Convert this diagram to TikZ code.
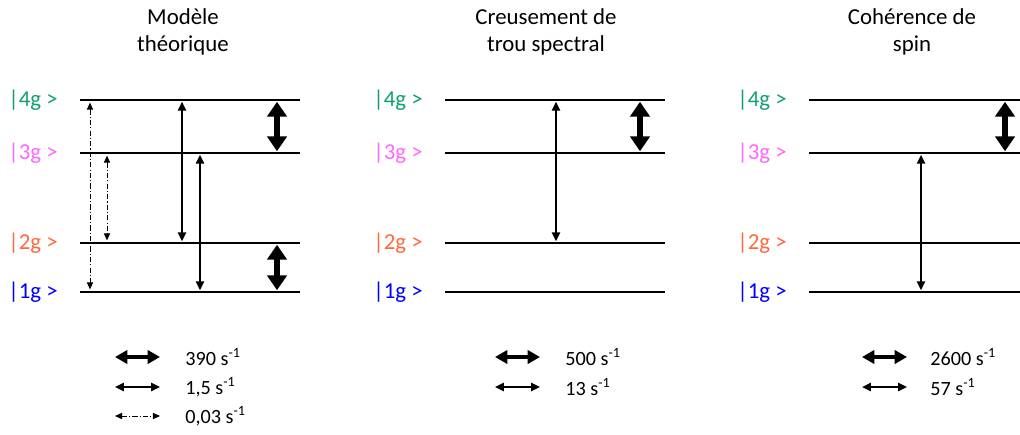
\documentclass[tikz,border=0pt]{standalone}
\usepackage{fontspec}
\setmainfont{Carlito}
\usetikzlibrary{arrows.meta,positioning}

\definecolor{ketfour}{RGB}{16,160,112}
\definecolor{ketthree}{RGB}{255,102,255}
\definecolor{kettwo}{RGB}{255,105,60}
\definecolor{ketone}{RGB}{0,0,255}

\begin{document}
\begin{tikzpicture}[x=0.02cm,y=-0.02cm,
    level/.style={line width=1.1pt},
    ket/.style={anchor=west,inner sep=0pt,font=\fontsize{13}{15}\selectfont},
    title/.style={align=center,font=\fontsize{13}{15.5}\selectfont},
    rate/.style={anchor=west,inner sep=0pt,font=\fontsize{11.5}{13}\selectfont},
    fast/.style={line width=3.4pt,{Triangle[width=11pt,length=8.5pt]}-{Triangle[width=11pt,length=8.5pt]}},
    fastkey/.style={line width=2.8pt,{Triangle[width=7.5pt,length=7pt]}-{Triangle[width=7.5pt,length=7pt]}},
    medium/.style={line width=1.2pt,{Triangle[width=4.5pt,length=5pt]}-{Triangle[width=4.5pt,length=5pt]}},
    slow/.style={line width=0.5pt,dash pattern=on 3pt off 1.2pt on 0.6pt off 1.2pt,
      {Triangle[width=3.5pt,length=4pt]}-{Triangle[width=3.5pt,length=4pt]}}]
  \useasboundingbox (0,0) rectangle (1020,434);

  % titres
  \node[title] (t_1) at (183,32) {Modèle\\théorique};
  \node[title] (t_2) at (546,32) {Creusement de\\trou spectral};
  \node[title] (t_3) at (912,32) {Cohérence de\\spin};

  % niveaux
  \foreach \p/\x/\e in {1/0/300,2/365/665,3/729/1020} {
    \node[ket,text=ketfour]  (k\p_4) at (8+\x,100) {|4g >};
    \node[ket,text=ketthree] (k\p_3) at (8+\x,153) {|3g >};
    \node[ket,text=kettwo]   (k\p_2) at (8+\x,243) {|2g >};
    \node[ket,text=ketone]   (k\p_1) at (8+\x,292) {|1g >};
    \foreach \n/\y in {4/100,3/153,2/243,1/292} {
      \coordinate (s\p_\n) at (80+\x,\y);
      \coordinate (e\p_\n) at (\e,\y);
      \draw[level] (s\p_\n) -- (e\p_\n);
    }
  }

  % transitions
  \coordinate (a_1) at (90,0);
  \coordinate (a_2) at (107,0);
  \coordinate (a_3) at (182,0);
  \coordinate (a_4) at (200,0);
  \coordinate (a_5) at (277,0);
  \coordinate (b_1) at (556,0);
  \coordinate (b_2) at (640,0);
  \coordinate (c_1) at (921,0);
  \coordinate (c_2) at (1005,0);
  \draw[slow,shorten <=1.5pt,shorten >=1.5pt] (a_1 |- s1_4) -- (a_1 |- s1_1);
  \draw[slow,shorten <=1.5pt,shorten >=1.5pt] (a_2 |- s1_3) -- (a_2 |- s1_2);
  \draw[medium,shorten <=1pt,shorten >=1pt] (a_3 |- s1_4) -- (a_3 |- s1_2);
  \draw[medium,shorten <=1pt,shorten >=1pt] (a_4 |- s1_3) -- (a_4 |- s1_1);
  \draw[fast,shorten <=1pt,shorten >=1pt] (a_5 |- s1_4) -- (a_5 |- s1_3);
  \draw[fast,shorten <=1pt,shorten >=1pt] (a_5 |- s1_2) -- (a_5 |- s1_1);
  \draw[medium,shorten <=1pt,shorten >=1pt] (b_1 |- s2_4) -- (b_1 |- s2_2);
  \draw[fast,shorten <=1pt,shorten >=1pt] (b_2 |- s2_4) -- (b_2 |- s2_3);
  \draw[medium,shorten <=1pt,shorten >=1pt] (c_1 |- s3_3) -- (c_1 |- s3_1);
  \draw[fast,shorten <=1pt,shorten >=1pt] (c_2 |- s3_4) -- (c_2 |- s3_3);

  % legendes
  \node[rate] (r1_f) at (185,357) {390 s\textsuperscript{-1}};
  \node[rate] (r1_m) at (185,387) {1,5 s\textsuperscript{-1}};
  \node[rate] (r1_s) at (185,416) {0,03 s\textsuperscript{-1}};
  \node[rate] (r2_f) at (565,357) {500 s\textsuperscript{-1}};
  \node[rate] (r2_m) at (565,387) {13 s\textsuperscript{-1}};
  \node[rate] (r3_f) at (930,357) {2600 s\textsuperscript{-1}};
  \node[rate] (r3_m) at (930,387) {57 s\textsuperscript{-1}};
  \foreach \r/\x in {r1/115,r2/495,r3/862} {
    \coordinate (\r_a) at (\x,0);
    \coordinate (\r_b) at (\x+45,0);
    \draw[fastkey] (\r_a |- \r_f) -- (\r_b |- \r_f);
    \draw[medium] (\r_a |- \r_m) -- (\r_b |- \r_m);
  }
  \draw[slow] (r1_a |- r1_s) -- (r1_b |- r1_s);
\end{tikzpicture}
\end{document}
